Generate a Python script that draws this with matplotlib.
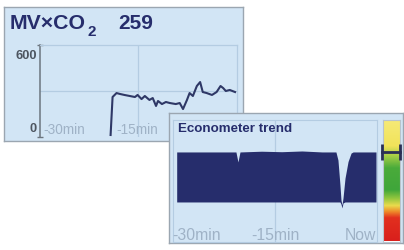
import matplotlib
matplotlib.use('Agg')
import matplotlib.pyplot as plt
import numpy as np
from matplotlib.colors import LinearSegmentedColormap

# ---------------- data ----------------
mv_title = "MV×CO"
mv_sub = "2"
mv_value = "259"
mv_t = [-19.2, -18.9, -18.3, -17.8, -17.1, -16.3, -15.5, -15.1, -14.5, -14.0,
        -13.3, -12.8, -12.3, -12.0, -11.4, -10.8, -10.2, -9.3, -8.7, -8.2,
        -7.6, -7.2, -6.7, -6.1, -5.6, -5.2, -4.6, -3.8, -3.1, -2.5,
        -2.1, -1.7, -1.1, -0.3]
mv_v = [0, 259, 286, 280, 273, 266, 259, 273, 245, 266,
        239, 252, 198, 232, 211, 225, 218, 211, 218, 177,
        239, 286, 266, 334, 361, 293, 286, 273, 293, 334,
        320, 300, 307, 293]
mv_xlabels = ["-30min", "-15min"]

econ_title = "Econometer trend"
econ_t = [-29.6, -20.8, -20.5, -20.2, -17.0, -14.0, -11.0, -8.0, -5.95, -5.65,
          -5.35, -5.2, -5.05, -4.9, -4.6, -4.15, -3.7, -3.4, 0.0]
econ_upper = [73.4, 73.4, 65.2, 73.4, 74.0, 73.6, 74.2, 73.4, 73.4, 66.8,
              46.3, 34.0, 29.9, 35.7, 52.0, 65.6, 72.5, 73.4, 73.4]
econ_lower = [32.4, 32.4, 32.4, 32.4, 32.4, 32.4, 32.4, 32.4, 32.4, 32.4,
              32.4, 30.7, 27.5, 31.6, 32.4, 32.4, 32.4, 32.4, 32.4]
econ_xlabels = ["-30min", "-15min", "Now"]

# ---------------- styling ----------------
W, H = 404, 250
BG = '#d2e5f5'
BORDER = '#9ba6b1'
GRID = '#b4cce2'
NAVY = '#262d6c'
LINE = '#2f3866'
TICKTXT = '#9fb2c6'
FONT = 'Liberation Sans'

fig = plt.figure(figsize=(W / 100, H / 100), dpi=100)
fig.patch.set_facecolor('white')
renderer = fig.canvas.get_renderer()


def box(x0, y0, x1, y1):
    return [x0 / W, 1 - y1 / H, (x1 - x0) / W, (y1 - y0) / H]


def P(x, y):
    return (x / W, 1 - y / H)


def panel(rect, z):
    a = fig.add_axes(rect, zorder=z)
    a.set_facecolor(BG)
    a.set_xticks([]); a.set_yticks([])
    for s in a.spines.values():
        s.set_color(BORDER); s.set_linewidth(1.0)
    return a


# ---------- panel 1: MV x CO2 ----------
p1 = panel(box(4, 7, 243, 141), 1)
t1 = p1.text(*P(10, 29), mv_title, transform=fig.transFigure, fontsize=15.3,
             fontweight='bold', color=NAVY, family=FONT, va='baseline')
ext = t1.get_window_extent(renderer)
xe = ext.x1  # display pixels (origin bottom-left)
p1.text(xe / W + 1.0 / W, 1 - 35.5 / H, mv_sub, transform=fig.transFigure,
        fontsize=11, fontweight='bold', color=NAVY, family=FONT, va='baseline')
p1.text(*P(118, 29), mv_value, transform=fig.transFigure, fontsize=15.0,
        fontweight='bold', color=NAVY, family=FONT, va='baseline')

ax1 = fig.add_axes(box(39.5, 45, 237, 137), zorder=2)
ax1.patch.set_alpha(0)
pad = 2 * 600 / 88
ax1.set_ylim(-pad, 600 + pad)
ax1.set_xlim(-30, 0)
for s in ['top', 'right']:
    ax1.spines[s].set_color(GRID); ax1.spines[s].set_linewidth(0.9)
ax1.spines['bottom'].set_visible(False)
ax1.spines['left'].set_color('#6c757f'); ax1.spines['left'].set_linewidth(1.1)
ax1.set_yticks([-pad, 600 + pad])
ax1.set_yticklabels([])
ax1.tick_params(axis='y', direction='inout', length=4, width=1, color='#6c757f')
ax1.set_xticks([])
ax1.axhline(300, color=GRID, lw=0.9, zorder=0)
ax1.axvline(-15, color=GRID, lw=0.9, zorder=0)
ax1.plot(mv_t, mv_v, color=LINE, lw=1.5, solid_joinstyle='round', zorder=3)
ax1.text(*P(37, 50), "600", transform=fig.transFigure, fontsize=9.3,
         color='#4d5560', ha='right', va='top', family=FONT, fontweight='bold')
ax1.text(*P(37, 135), "0", transform=fig.transFigure, fontsize=9.3,
         color='#4d5560', ha='right', va='bottom', family=FONT, fontweight='bold')
ax1.text(*P(43, 130), mv_xlabels[0], transform=fig.transFigure, fontsize=9.8,
         color=TICKTXT, ha='left', va='center', family=FONT)
ax1.text(*P(137, 130), mv_xlabels[1], transform=fig.transFigure, fontsize=9.8,
         color=TICKTXT, ha='center', va='center', family=FONT)

# ---------- panel 2: Econometer ----------
p2 = panel(box(169, 113, 403, 243), 3)
p2.text(*P(178, 129), econ_title, transform=fig.transFigure, fontsize=9.6,
        fontweight='bold', color=NAVY, family=FONT, va='center')

ax2 = fig.add_axes(box(173, 119.5, 377, 241.5), zorder=4)
ax2.patch.set_alpha(0)
ppm = 202 / 30
ax2.set_xlim(-30 - 1 / ppm, 0 + 1 / ppm)
ax2.set_ylim(0, 100)
ax2.set_xticks([]); ax2.set_yticks([])
for s in ax2.spines.values():
    s.set_color(GRID); s.set_linewidth(0.8)
ax2.axvline(-15, color=GRID, lw=0.9, zorder=0)
ax2.fill_between(econ_t, econ_lower, econ_upper, color=NAVY, lw=0, zorder=2)
ax2.text(*P(172, 235), econ_xlabels[0], transform=fig.transFigure, fontsize=11.3,
         color=TICKTXT, ha='left', va='center', family=FONT)
ax2.text(*P(275, 235), econ_xlabels[1], transform=fig.transFigure, fontsize=11.3,
         color=TICKTXT, ha='center', va='center', family=FONT)
ax2.text(*P(376, 235), econ_xlabels[2], transform=fig.transFigure, fontsize=11.3,
         color=TICKTXT, ha='right', va='center', family=FONT)

# colour scale
ax3 = fig.add_axes(box(383, 119.5, 400, 241.5), zorder=5)
cmap = LinearSegmentedColormap.from_list('econ', [
    (0.00, '#d91f1c'), (0.19, '#e2301f'), (0.24, '#ee8a2a'), (0.29, '#eadb4c'),
    (0.35, '#92c63e'), (0.42, '#3fa63a'), (0.60, '#4aab3b'), (0.70, '#a6cf46'),
    (0.78, '#f1e35a'), (1.00, '#f6ea78')])
grad = np.linspace(0, 1, 256).reshape(-1, 1)
ax3.imshow(grad, aspect='auto', cmap=cmap, origin='lower', extent=[0, 1, 0, 100])
ax3.set_xlim(0, 1); ax3.set_ylim(0, 100)
ax3.set_xticks([]); ax3.set_yticks([])
for s in ax3.spines.values():
    s.set_color('#b9c3cc'); s.set_linewidth(0.8)
cur = econ_upper[-1]
ax3.plot([-0.03, 1.0], [cur, cur], color='#2a2f55', lw=2.0, clip_on=False, zorder=5)
ax3.plot([-0.03, 1.0], [cur, cur], ls='none', marker='|', ms=11, mew=2.0,
         color='#2a2f55', clip_on=False, zorder=5)

fig.savefig('out.png', dpi=100, facecolor='white')
